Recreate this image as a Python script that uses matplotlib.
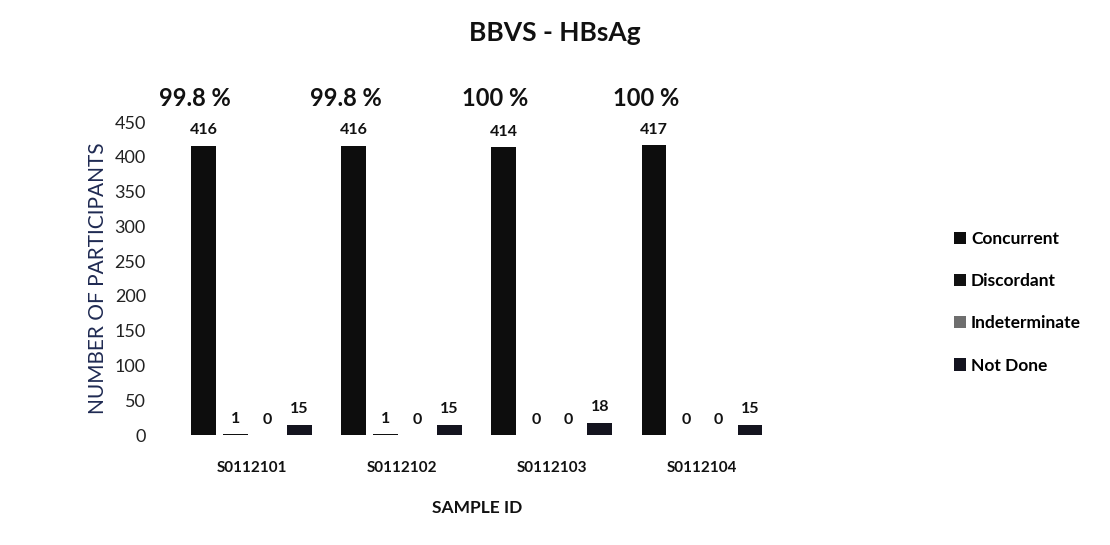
import matplotlib
matplotlib.use("Agg")
import matplotlib.pyplot as plt
import numpy as np

samples = ["S0112101", "S0112102", "S0112103", "S0112104"]
series = ["Concurrent", "Discordant", "Indeterminate", "Not Done"]
concurrent = [416, 416, 414, 417]
discordant = [1, 1, 0, 0]
indeterminate = [0, 0, 0, 0]
not_done = [15, 15, 18, 15]
percent_labels = ["99.8 %", "99.8 %", "100 %", "100 %"]
yticks = [0, 50, 100, 150, 200, 250, 300, 350, 400, 450]

colors = ["#0d0d0d", "#111111", "#6e6e6e", "#14141f"]
values = [concurrent, discordant, indeterminate, not_done]

plt.rcParams['font.family'] = ['Lato', 'DejaVu Sans']

fig = plt.figure(figsize=(11.1, 5.45), dpi=100)
ax = fig.add_axes([0.159, 0.2018, 0.541, 0.574])

x = np.arange(len(samples))
bw = 0.165
step = 0.213
offsets = [(-1.5 + i) * step for i in range(4)]

for i, (name, vals, c) in enumerate(zip(series, values, colors)):
    ax.bar(x + offsets[i], vals, width=bw, color=c, label=name)
    for xi, v in zip(x + offsets[i], vals):
        ax.annotate(str(v), (xi, v), xytext=(0, 6), textcoords="offset points",
                    ha="center", va="bottom", fontsize=11.5, fontweight="bold",
                    color="#111111")

for xi, lab in zip(x + offsets[0], percent_labels):
    ax.annotate(lab, (xi, 450), xytext=(-6, 9), textcoords="offset points",
                ha="center", va="bottom", fontsize=17, fontweight="bold",
                color="#111111", annotation_clip=False)

ax.set_xlim(-0.5, len(samples) - 0.5)
ax.set_ylim(0, 450)
ax.set_yticks(yticks)
ax.set_yticklabels([str(t) for t in yticks], fontsize=13, color="#222222")
ax.set_xticks(x)
ax.set_xticklabels(samples, fontsize=11, fontweight="bold", color="#111111")
ax.tick_params(axis="both", length=0)
ax.tick_params(axis="y", pad=22)
ax.tick_params(axis="x", pad=19)
for s in ax.spines.values():
    s.set_visible(False)

ax.set_ylabel("NUMBER OF PARTICIPANTS", fontsize=15, color="#1f2a52", labelpad=5)
ax.set_xlabel("SAMPLE ID", fontsize=12.5, fontweight="bold", color="#111111", labelpad=18)

fig.text(0.5, 0.94, "BBVS - HBsAg", ha="center", va="center",
         fontsize=19, fontweight="bold", color="#111111")

fig.legend(loc="center left", bbox_to_anchor=(0.845, 0.445), frameon=False,
           handlelength=0.7, handleheight=0.7, handletextpad=0.3,
           labelspacing=1.5, prop={"weight": "bold", "size": 12.5})

fig.savefig("out.png", dpi=100, facecolor="white")
